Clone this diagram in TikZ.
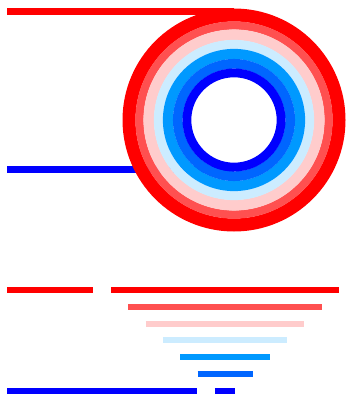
\documentclass[tikz,border=0pt]{standalone}
\usepackage{xcolor}
\usepackage{tikz}
\definecolor{tapered}{RGB}{255,0,0}
\definecolor{tapesalmon}{RGB}{255,80,80}
\definecolor{tapepink}{RGB}{255,204,204}
\definecolor{tapeice}{RGB}{204,236,255}
\definecolor{tapesky}{RGB}{0,153,255}
\definecolor{tapeazure}{RGB}{0,102,255}
\definecolor{tapeblue}{RGB}{0,0,255}
\tikzset{
  tapebar/.style={line width=6pt, line cap=butt},
  tapelead/.style={line width=6.5pt, line cap=butt},
  coil/.style={line width=#1}
}

\begin{document}
\begin{tikzpicture}[x=1pt, y=-1pt]
  \useasboundingbox (0,0) rectangle (345,401);
  % ── wound roll, centre (234,120) ──
  \draw[tapelead, tapeblue] (7.3, 169.5) -- (234, 169.5);
  \draw[tapelead, tapered]  (7.3, 11.6) -- (234, 11.6);
  \foreach \r/\w/\c in {105/13pt/tapered, 94.5/8.2pt/tapesalmon,
                        85.2/10.7pt/tapepink, 75.5/9.2pt/tapeice,
                        66/10.2pt/tapesky, 56.2/9.7pt/tapeazure,
                        47.1/8.8pt/tapeblue} {
    \draw[coil=\w, \c] (234,120) circle (\r);
  }

  % ── unrolled strip, one row per turn ──
  \draw[tapebar, tapered]  (7.3, 289.7) -- (93.3, 289.7);
  \draw[tapebar, tapeblue] (7.3, 391.3) -- (197.3, 391.3);
  \foreach \c [count=\i from 0] in {tapered, tapesalmon, tapepink, tapeice,
                                    tapesky, tapeazure, tapeblue} {
    \draw[tapebar, \c] ({111+17.3*\i}, {289.7+16.93*\i}) -- ({339-17.3*\i}, {289.7+16.93*\i});
  }
\end{tikzpicture}
\end{document}
